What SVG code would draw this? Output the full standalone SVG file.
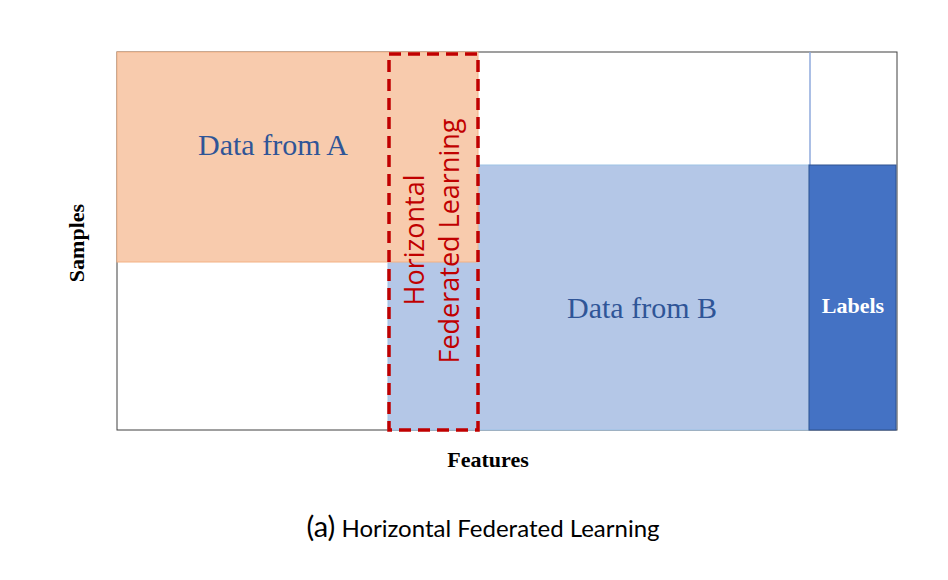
<svg xmlns="http://www.w3.org/2000/svg" width="948" height="580" viewBox="0 0 948 580">
<style>
.serif{font-family:"Liberation Serif","DejaVu Serif",serif}
.lbl{fill:#2F5597;font-size:30px}
.bold{font-weight:bold;font-size:22px;fill:#000}
.hfl{font-family:"Open Sans","Noto Sans",sans-serif;font-size:27px;fill:#C00000}
</style>
<rect width="948" height="580" fill="#fff"/>
<g id="frame">
<rect x="117" y="52" width="780" height="378" fill="#fff" stroke="#404040" stroke-width="1"/>
</g>
<g id="dataB">
<rect x="388" y="165" width="421" height="265" fill="#B4C7E7" stroke="#9DC3E6" stroke-width="1"/>
<text class="serif lbl" x="642" y="318" text-anchor="middle">Data from B</text>
</g>
<g id="dataA">
<rect x="117" y="52" width="361" height="210" fill="#F8CBAD" stroke="#F4B183" stroke-width="1"/>
<text class="serif lbl" x="273" y="155" text-anchor="middle">Data from A</text>
</g>
<g id="labels">
<line x1="810" y1="52" x2="810" y2="165" stroke="#8FAADC" stroke-width="1.5"/>
<rect x="809" y="165" width="87" height="265" fill="#4472C4" stroke="#2F528F" stroke-width="1"/>
<text class="serif" x="853" y="313" text-anchor="middle" font-size="22" font-weight="bold" fill="#fff">Labels</text>
</g>
<g id="hfl">
<rect x="389" y="54" width="89" height="376" fill="none" stroke="#C00000" stroke-width="3.5" stroke-dasharray="12,7"/>
<text class="hfl" transform="translate(424,240) rotate(-90)" text-anchor="middle">Horizontal</text>
<text class="hfl" transform="translate(459,241) rotate(-90)" text-anchor="middle">Federated Learning</text>
</g>
<g id="axes">
<text class="serif bold" x="488" y="467" text-anchor="middle">Features</text>
<text class="serif bold" transform="translate(84,243) rotate(-90)" text-anchor="middle">Samples</text>
</g>
<g id="caption">
<text x="483" y="537" text-anchor="middle" font-family="Lato,'Open Sans',sans-serif" fill="#000"><tspan font-size="29">(a)</tspan><tspan font-size="24"> Horizontal Federated Learning</tspan></text>
</g>
</svg>
